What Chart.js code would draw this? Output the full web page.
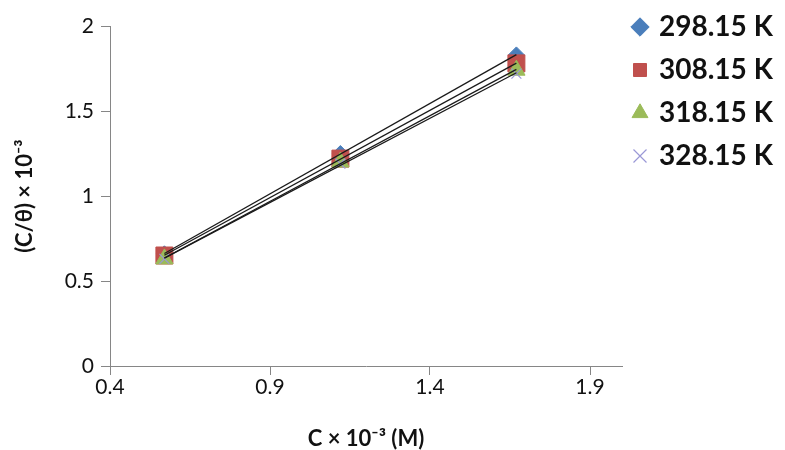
<!DOCTYPE html>
<html>
<head>
<meta charset="utf-8">
<script src="https://cdn.jsdelivr.net/npm/chart.js@4"></script>
<style>
  html, body { margin: 0; padding: 0; background: #ffffff; }
  #wrap { width: 785px; height: 450px; }
</style>
</head>
<body>
<div id="wrap"><canvas id="chart" width="785" height="450"></canvas></div>
<script>
// Concentration C (×10⁻³ M) and C/θ (×10⁻³) at each temperature
const concentrations = [0.57, 1.12, 1.67];
const temperatureLabels = ['298.15 K', '308.15 K', '318.15 K', '328.15 K'];
const ratioAt298 = [0.66, 1.25, 1.83];
const ratioAt308 = [0.65, 1.22, 1.78];
const ratioAt318 = [0.63, 1.20, 1.74];
const ratioAt328 = [0.63, 1.19, 1.72];
const xTickValues = [0.4, 0.9, 1.4, 1.9];
const yTickValues = [0, 0.5, 1, 1.5, 2];

const seriesValues = [ratioAt298, ratioAt308, ratioAt318, ratioAt328];
const markerStyles = [
  { pointStyle: 'rectRot', radius: 8, color: '#4A7EBB', border: 1 },
  { pointStyle: 'rect', radius: 12, color: '#C0504D', border: 1 },
  { pointStyle: 'triangle', radius: 10, color: '#9BBB59', border: 1 },
  { pointStyle: 'crossRot', radius: 7, color: '#9A98D6', border: 1.2 }
];

// least-squares straight line through one series, spanning the measured range
function trendLine(xs, ys) {
  const n = xs.length;
  const mx = xs.reduce((a, b) => a + b, 0) / n;
  const my = ys.reduce((a, b) => a + b, 0) / n;
  let sxy = 0, sxx = 0;
  for (let i = 0; i < n; i++) {
    sxy += (xs[i] - mx) * (ys[i] - my);
    sxx += (xs[i] - mx) * (xs[i] - mx);
  }
  const slope = sxy / sxx;
  const icpt = my - slope * mx;
  const x0 = xs[0], x1 = xs[n - 1];
  return [{ x: x0, y: icpt + slope * x0 }, { x: x1, y: icpt + slope * x1 }];
}

const markerSets = seriesValues.map((vals, i) => ({
  label: temperatureLabels[i],
  data: concentrations.map((c, j) => ({ x: c, y: vals[j] })),
  pointStyle: markerStyles[i].pointStyle,
  pointRadius: markerStyles[i].radius,
  pointHoverRadius: markerStyles[i].radius,
  backgroundColor: markerStyles[i].color,
  borderColor: markerStyles[i].color,
  pointBorderWidth: markerStyles[i].border,
  showLine: false,
  order: 10 - i
}));

const fitSets = seriesValues.map((vals, i) => ({
  label: 'fit ' + temperatureLabels[i],
  data: trendLine(concentrations, vals),
  showLine: true,
  borderColor: '#1a1a1a',
  borderWidth: 1.3,
  pointRadius: 0,
  fill: false,
  isFit: true,
  order: 1
}));

const tickFont = { family: 'Lato', size: 21, weight: 'normal' };
const titleFont = { family: 'Lato', size: 22, weight: 'bold', lineHeight: 1 };
const legendFont = { family: 'Lato', size: 28, weight: 'bold' };
const legendGap = 15;
const legendBoxW = 10;
const legendColumnWidth = 163;
const axisGray = '#868686';

// fixed-width legend column on the right; entries start level with the top of the axis
const legendPlacement = {
  id: 'legendPlacement',
  beforeLayout(chart) {
    const lg = chart.legend;
    if (lg && !lg._fixedWidth) {
      const fit = lg.fit.bind(lg);
      lg.fit = function () { fit(); this.width = legendColumnWidth; };
      lg._fixedWidth = true;
    }
  },
  afterLayout(chart) {
    const lg = chart.legend;
    if (!lg) return;
    const markerX = 640, firstRowY = 27;
    const w = lg.width, h = lg.height;
    lg.left = markerX - legendGap - legendBoxW / 2;
    lg.right = lg.left + w;
    lg.top = firstRowY - legendGap - legendFont.size / 2;
    lg.bottom = lg.top + h;
  }
};

new Chart(document.getElementById('chart'), {
  type: 'scatter',
  data: { datasets: [...markerSets, ...fitSets] },
  plugins: [legendPlacement],
  options: {
    responsive: false,
    devicePixelRatio: 1,
    animation: false,
    layout: { padding: { left: 4, top: 26, right: 0, bottom: 0 } },
    plugins: {
      tooltip: { enabled: false },
      legend: {
        position: 'right',
        align: 'start',
        labels: {
          usePointStyle: true,
          boxHeight: 13,
          boxWidth: legendBoxW,
          padding: legendGap,
          color: '#111',
          font: legendFont,
          filter: (item, data) => !data.datasets[item.datasetIndex].isFit,
          sort: (a, b) => a.datasetIndex - b.datasetIndex
        }
      }
    },
    scales: {
      x: {
        type: 'linear',
        min: 0.4,
        max: 2.0,
        afterBuildTicks: s => { s.ticks = xTickValues.map(v => ({ value: v })); },
        afterFit: s => { s.height = 84; },
        grid: { drawOnChartArea: false, drawTicks: true, tickLength: 9, color: axisGray },
        border: { color: axisGray, width: 1 },
        ticks: { font: tickFont, color: '#111', padding: 0, callback: v => String(v) },
        title: { display: true, text: 'C × 10⁻³ (M)', font: titleFont, color: '#111', padding: { top: 0, bottom: 0 } }
      },
      y: {
        type: 'linear',
        min: 0,
        max: 2,
        afterBuildTicks: s => { s.ticks = yTickValues.map(v => ({ value: v })); },
        afterFit: s => { s.width = 106; },
        grid: { drawOnChartArea: false, drawTicks: true, tickLength: 9, color: axisGray },
        border: { color: axisGray, width: 1 },
        ticks: { font: tickFont, color: '#111', padding: 7, callback: v => String(v) },
        title: { display: true, text: '(C/θ) × 10⁻³', font: titleFont, color: '#111', padding: { top: 10, bottom: 0 } }
      }
    }
  }
});
</script>
</body>
</html>
